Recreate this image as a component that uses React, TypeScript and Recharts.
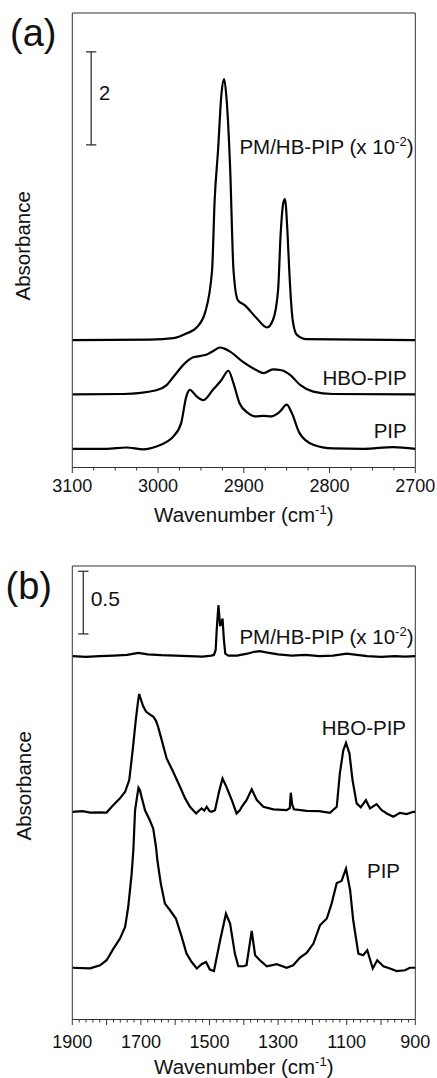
import React from "react";
import { LineChart, Line, XAxis, YAxis, ReferenceLine } from "recharts";

// ---------- Panel (a): C-H stretching region ----------
const PM_A_WN = [3100, 3009, 2982, 2967, 2955, 2945, 2937, 2934, 2930, 2926, 2923, 2920, 2916, 2912, 2907, 2899, 2885, 2873, 2866, 2860, 2857, 2854, 2852, 2849, 2847, 2843, 2838, 2827, 2700];
const PM_A_ABS = [0, 0.01, 0.04, 0.14, 0.27, 0.6, 1.5, 3.0, 4.09, 5.3, 5.61, 5.16, 3.73, 1.5, 0.86, 0.75, 0.47, 0.27, 0.43, 1.08, 2.29, 2.94, 3.03, 2.29, 1.5, 0.43, 0.11, 0.02, 0];

const HBO_A_WN = [3100, 3040, 3002, 2990, 2982, 2967, 2959, 2950, 2943, 2935, 2928, 2922, 2916, 2901, 2885, 2877, 2866, 2856, 2846, 2834, 2819, 2796, 2700];
const HBO_A_ABS = [0, 0.01, 0.09, 0.2, 0.38, 0.7, 0.8, 0.83, 0.86, 0.94, 1.01, 0.98, 0.92, 0.7, 0.52, 0.46, 0.54, 0.52, 0.42, 0.2, 0.06, 0.01, 0];

const PIP_A_WN = [3100, 3060, 3037, 3017, 3002, 2990, 2982, 2973, 2967, 2963, 2955, 2947, 2936, 2926, 2918, 2912, 2905, 2895, 2887, 2877, 2868, 2858, 2850, 2844, 2835, 2819, 2796, 2760, 2726, 2700];
const PIP_A_ABS = [0, 0, 0.03, -0.01, 0.05, 0.15, 0.27, 0.56, 1.13, 1.27, 1.13, 1.05, 1.27, 1.48, 1.68, 1.41, 0.98, 0.77, 0.7, 0.71, 0.7, 0.8, 0.95, 0.77, 0.34, 0.09, 0.01, 0, 0.04, 0];

const OFFSET_A = { pm: 2.74, hbo: 1.57, pip: 0.4 };
const DOMAIN_A: [number, number] = [0, 9.77];
const X_DOMAIN_A: [number, number] = [2700, 3100];
const LABELS_A = [3100, 3000, 2900, 2800, 2700];
const SCALE_A = { wn: 3078, from: 6.935, to: 8.935, half: 6 };

// ---------- Panel (b): fingerprint region ----------
const PM_B_WN = [1900, 1860, 1820, 1780, 1740, 1708, 1680, 1640, 1600, 1560, 1520, 1495, 1487, 1482, 1479, 1474, 1469, 1466, 1462, 1458, 1454, 1445, 1420, 1390, 1370, 1353, 1335, 1300, 1260, 1220, 1180, 1140, 1100, 1070, 1040, 1000, 960, 930, 900];
const PM_B_ABS = [0, -0.005, 0, 0.005, 0.01, 0.026, 0.015, 0.008, 0.005, 0, -0.003, 0.005, 0.01, 0.05, 0.21, 0.407, 0.24, 0.26, 0.3, 0.13, 0.02, 0.005, 0.005, 0.02, 0.035, 0.04, 0.03, 0.015, 0.005, 0.01, 0, 0.005, 0.02, 0.01, 0, -0.005, 0, -0.003, 0];

const HBO_B_WN = [1900, 1870, 1848, 1820, 1800, 1785, 1761, 1746, 1734, 1724, 1715, 1708, 1705, 1698, 1693, 1685, 1678, 1670, 1664, 1656, 1650, 1639, 1625, 1606, 1586, 1571, 1557, 1547, 1539, 1530, 1523, 1515, 1508, 1500, 1494, 1484, 1471, 1462, 1450, 1435, 1421, 1411, 1406, 1392, 1377, 1362, 1343, 1314, 1275, 1266, 1263, 1259, 1254, 1217, 1180, 1149, 1129, 1120, 1110, 1102, 1092, 1083, 1071, 1059, 1044, 1032, 1013, 998, 983, 964, 945, 925, 906, 900];
const HBO_B_ABS = [0, 0.005, -0.006, -0.004, -0.006, 0.04, 0.107, 0.16, 0.253, 0.49, 0.73, 0.89, 0.94, 0.88, 0.84, 0.8, 0.785, 0.77, 0.76, 0.726, 0.68, 0.57, 0.426, 0.32, 0.2, 0.107, 0.04, 0.01, -0.013, 0.01, 0.027, 0.01, 0.04, 0.005, 0, 0.013, 0.173, 0.266, 0.195, 0.093, -0.013, 0.013, 0.04, 0.093, 0.18, 0.093, 0.04, 0.02, 0.013, 0.03, 0.152, 0.06, 0.02, 0.008, 0.005, -0.008, 0.04, 0.306, 0.49, 0.55, 0.466, 0.253, 0.067, 0.035, 0.093, 0.027, 0.061, 0.013, -0.013, -0.04, -0.008, -0.018, 0, 0];

const PIP_B_WN = [1900, 1848, 1819, 1800, 1780, 1761, 1746, 1737, 1727, 1722, 1717, 1712, 1707, 1703, 1698, 1688, 1674, 1664, 1656, 1652, 1642, 1630, 1615, 1598, 1581, 1567, 1552, 1537, 1523, 1510, 1499, 1487, 1469, 1452, 1440, 1426, 1416, 1401, 1392, 1377, 1367, 1353, 1333, 1304, 1275, 1256, 1236, 1217, 1197, 1178, 1158, 1144, 1129, 1115, 1102, 1090, 1081, 1066, 1052, 1040, 1024, 1011, 993, 974, 954, 930, 916, 900];
const PIP_B_ABS = [0, -0.005, 0.02, 0.06, 0.153, 0.233, 0.326, 0.485, 0.75, 0.94, 1.257, 1.35, 1.438, 1.42, 1.363, 1.257, 1.177, 1.11, 0.964, 0.858, 0.672, 0.512, 0.459, 0.393, 0.246, 0.113, 0.046, -0.006, 0.028, 0.046, -0.014, -0.026, 0.219, 0.432, 0.353, 0.113, 0.012, 0.012, 0.02, 0.294, 0.1, 0.06, 0.012, 0.028, 0, 0.02, 0.081, 0.118, 0.193, 0.339, 0.393, 0.512, 0.677, 0.693, 0.792, 0.619, 0.379, 0.113, 0.1, 0.14, -0.006, 0.06, 0.012, -0.006, -0.026, -0.02, 0, 0];

const OFFSET_B = { pm: 2.9, hbo: 1.658, pip: 0.413 };
const DOMAIN_B: [number, number] = [0, 3.62];
const X_DOMAIN_B: [number, number] = [900, 1900];
const LABELS_B = [1900, 1700, 1500, 1300, 1100, 900];
const SCALE_B = { wn: 1868, from: 3.078, to: 3.578, half: 15 };

const FONT = "'Liberation Sans', Arial, Helvetica, sans-serif";
const INK = "#111";
const AXIS = "#333";

const toData = (wn: number[], abs: number[], off: number) =>
  wn.map((w, i) => ({ x: w, y: abs[i] + off }));

const makeTicks = (lo: number, hi: number, step: number) => {
  const t: number[] = [];
  for (let v = lo; v <= hi + 1e-9; v += step) t.push(Math.round(v));
  return t;
};

const makeTick = (axisY: number, majorEvery: number, labels: number[], labelDy: number) =>
  (props: any) => {
    const { x, payload } = props;
    const v = payload.value as number;
    const major = Math.abs(v % majorEvery) < 1e-6;
    const labeled = labels.includes(v);
    return (
      <g>
        <line x1={x} x2={x} y1={axisY} y2={axisY + (major ? 5.5 : 3)} stroke={AXIS} strokeWidth={1} />
        {labeled && (
          <text x={x} y={axisY + labelDy} textAnchor="middle" fontSize={18} fontFamily={FONT} fill={INK}>
            {v}
          </text>
        )}
      </g>
    );
  };

type PanelProps = {
  height: number;
  top: number;
  xAxisH: number;
  xDomain: [number, number];
  yDomain: [number, number];
  ticks: number[];
  labels: number[];
  majorEvery: number;
  labelDy: number;
  series: { x: number; y: number }[][];
  curve: "monotone" | "linear";
  scale: { wn: number; from: number; to: number; half: number };
};

const W = 437;
const PLOT_LEFT = 72.3;
const RIGHT_M = 21.7;

function Panel(p: PanelProps) {
  const axisY = p.height - p.xAxisH;
  return (
    <LineChart width={W} height={p.height} margin={{ top: p.top, right: RIGHT_M, bottom: 0, left: 0 }}>
      <XAxis
        type="number"
        dataKey="x"
        domain={p.xDomain}
        reversed
        allowDataOverflow
        ticks={p.ticks}
        interval={0}
        height={p.xAxisH}
        tickLine={false}
        tickSize={0}
        axisLine={{ stroke: AXIS, strokeWidth: 1 }}
        tick={makeTick(axisY, p.majorEvery, p.labels, p.labelDy)}
      />
      <YAxis
        type="number"
        domain={p.yDomain}
        allowDataOverflow
        width={PLOT_LEFT}
        tick={false}
        tickLine={false}
        axisLine={{ stroke: AXIS, strokeWidth: 1 }}
      />
      <ReferenceLine y={p.yDomain[1]} stroke={AXIS} strokeWidth={1} ifOverflow="visible" />
      <ReferenceLine x={p.xDomain[0]} stroke={AXIS} strokeWidth={1} ifOverflow="visible" />
      <ReferenceLine
        segment={[{ x: p.scale.wn, y: p.scale.from }, { x: p.scale.wn, y: p.scale.to }]}
        stroke="#333"
        strokeWidth={1.3}
        ifOverflow="visible"
      />
      <ReferenceLine
        segment={[{ x: p.scale.wn + p.scale.half, y: p.scale.to }, { x: p.scale.wn - p.scale.half, y: p.scale.to }]}
        stroke="#333"
        strokeWidth={1.3}
        ifOverflow="visible"
      />
      <ReferenceLine
        segment={[{ x: p.scale.wn + p.scale.half, y: p.scale.from }, { x: p.scale.wn - p.scale.half, y: p.scale.from }]}
        stroke="#333"
        strokeWidth={1.3}
        ifOverflow="visible"
      />
      {p.series.map((d, i) => (
        <Line
          key={i}
          data={d}
          dataKey="y"
          type={p.curve}
          stroke="#000"
          strokeWidth={2.2}
          dot={false}
          activeDot={false}
          isAnimationActive={false}
        />
      ))}
    </LineChart>
  );
}

const Sup = ({ children }: { children: string }) => (
  <>
    <tspan dy={-8} fontSize={13}>{children}</tspan>
    <tspan dy={8}>)</tspan>
  </>
);

export default function App() {
  const seriesA = [
    toData(PM_A_WN, PM_A_ABS, OFFSET_A.pm),
    toData(HBO_A_WN, HBO_A_ABS, OFFSET_A.hbo),
    toData(PIP_A_WN, PIP_A_ABS, OFFSET_A.pip),
  ];
  const seriesB = [
    toData(PM_B_WN, PM_B_ABS, OFFSET_B.pm),
    toData(HBO_B_WN, HBO_B_ABS, OFFSET_B.hbo),
    toData(PIP_B_WN, PIP_B_ABS, OFFSET_B.pip),
  ];
  const txt = { fontFamily: FONT, fill: INK } as const;
  return (
    <div style={{ position: "absolute", left: 0, top: 0, width: W, height: 1078, background: "#fff" }}>
      <div style={{ position: "absolute", left: 0, top: 0 }}>
        <Panel
          height={520}
          top={13}
          xAxisH={52.5}
          xDomain={X_DOMAIN_A}
          yDomain={DOMAIN_A}
          ticks={makeTicks(2700, 3100, 25)}
          labels={LABELS_A}
          majorEvery={100}
          labelDy={24.3}
          series={seriesA}
          curve="monotone"
          scale={SCALE_A}
        />
      </div>
      <div style={{ position: "absolute", left: 0, top: 520 }}>
        <Panel
          height={558}
          top={46}
          xAxisH={58.5}
          xDomain={X_DOMAIN_B}
          yDomain={DOMAIN_B}
          ticks={makeTicks(900, 1900, 20)}
          labels={LABELS_B}
          majorEvery={100}
          labelDy={28.8}
          series={seriesB}
          curve="linear"
          scale={SCALE_B}
        />
      </div>
      <svg
        width={W}
        height={1078}
        style={{ position: "absolute", left: 0, top: 0, pointerEvents: "none" }}
      >
        {/* panel (a) */}
        <text x={10} y={45.5} fontSize={38} {...txt}>(a)</text>
        <text x={99} y={100} fontSize={20} {...txt}>2</text>
        <text x={413.5} y={154} fontSize={20.5} textAnchor="end" {...txt}>
          PM/HB-PIP (x 10<Sup>-2</Sup>
        </text>
        <text x={406.7} y={385} fontSize={20.5} textAnchor="end" {...txt}>HBO-PIP</text>
        <text x={406.7} y={438.3} fontSize={20.5} textAnchor="end" {...txt}>PIP</text>
        <text x={30.5} y={245.8} fontSize={20.5} textAnchor="middle" transform="rotate(-90 30.5 245.8)" {...txt}>
          Absorbance
        </text>
        <text x={243.8} y={522} fontSize={20.5} textAnchor="middle" {...txt}>
          Wavenumber (cm<Sup>-1</Sup>
        </text>

        {/* panel (b) */}
        <text x={5.5} y={599} fontSize={38} {...txt}>(b)</text>
        <text x={90.7} y={606} fontSize={21} {...txt}>0.5</text>
        <text x={413.5} y={644} fontSize={20.5} textAnchor="end" {...txt}>
          PM/HB-PIP (x 10<Sup>-2</Sup>
        </text>
        <text x={406} y={735} fontSize={20.5} textAnchor="end" {...txt}>HBO-PIP</text>
        <text x={400} y={877.7} fontSize={20.5} textAnchor="end" {...txt}>PIP</text>
        <text x={31} y={785.8} fontSize={20.5} textAnchor="middle" transform="rotate(-90 31 785.8)" {...txt}>
          Absorbance
        </text>
        <text x={243.8} y={1074} fontSize={20.5} textAnchor="middle" {...txt}>
          Wavenumber (cm<Sup>-1</Sup>
        </text>
      </svg>
    </div>
  );
}
